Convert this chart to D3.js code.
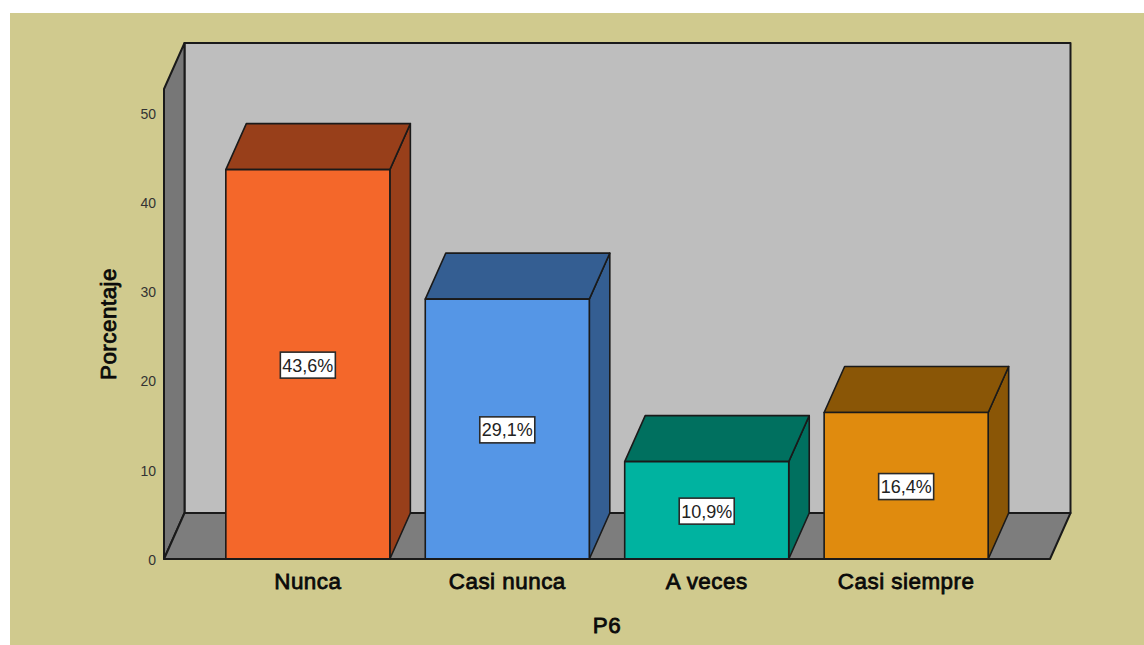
<!DOCTYPE html>
<html><head><meta charset="utf-8">
<script src="https://cdn.jsdelivr.net/npm/d3@7"></script>
<style>html,body{margin:0;padding:0;background:#fff;overflow:hidden}svg{display:block}text{font-family:"Liberation Sans",Arial,sans-serif}</style>
</head><body><div id="chart"></div>
<script>
const categories = ["Nunca","Casi nunca","A veces","Casi siempre"];
const values = [43.6,29.1,10.9,16.4];
const valueLabels = ["43,6%","29,1%","10,9%","16,4%"];
const frontColors = ["#f4672a","#5596e6","#00b3a0","#e08b0e"];
const sideColors = ["#983f1a","#345e92","#00705f","#8a5606"];
const yTicks = [0,10,20,30,40,50];
const yTitle = "Porcentaje", xTitle = "P6";

const W=1144,H=645, dx=20.5, dy=-46;
const svg=d3.select("#chart").append("svg").attr("width",W).attr("height",H);
svg.append("rect").attr("x",10).attr("y",13).attr("width",W-10).attr("height",H-13).attr("fill","#d0ca8e");

const x=d3.scaleBand().domain(categories).range([164,1050]).paddingInner(0.1775).paddingOuter(0.31);
const y=d3.scaleLinear().domain([0,50]).range([559,112.5]);
const yTop=y.invert(89);
const stroke="#1a1a1a";
const poly=(pts,fill,sw=2)=>svg.append("polygon").attr("points",pts.map(p=>p.join(",")).join(" ")).attr("fill",fill).attr("stroke",stroke).attr("stroke-width",sw).attr("stroke-linejoin","round");

const [xa,xb]=x.range(), y0=y(0), yt=y(yTop);
poly([[xa+dx,yt+dy],[xb+dx,yt+dy],[xb+dx,y0+dy],[xa+dx,y0+dy]],"#bebebe");
poly([[xa,yt],[xa+dx,yt+dy],[xa+dx,y0+dy],[xa,y0]],"#777777");
poly([[xa,y0],[xa+dx,y0+dy],[xb+dx,y0+dy],[xb,y0]],"#7d7d7d");

categories.forEach((c,i)=>{
  const l=x(c), r=l+x.bandwidth(), t=y(values[i]);
  poly([[r,t],[r+dx,t+dy],[r+dx,y0+dy],[r,y0]],sideColors[i],1.6);
  poly([[l,t],[l+dx,t+dy],[r+dx,t+dy],[r,t]],sideColors[i],1.6);
  poly([[l,t],[r,t],[r,y0],[l,y0]],frontColors[i],1.6);
});
svg.append("line").attr("x1",xa).attr("x2",xb).attr("y1",y0).attr("y2",y0).attr("stroke",stroke).attr("stroke-width",2.2);

categories.forEach((c,i)=>{
  const cx=x(c)+x.bandwidth()/2, cy=(y(values[i])+y0)/2+0.8;
  svg.append("rect").attr("x",cx-27.5).attr("y",cy-13).attr("width",55).attr("height",26).attr("fill","#fff").attr("stroke","#2a2a2a").attr("stroke-width",1.6);
  svg.append("text").attr("x",cx).attr("y",cy+6.5).attr("text-anchor","middle").attr("font-size",18).attr("fill","#222").text(valueLabels[i]);
});

svg.selectAll(".yt").data(yTicks).join("text").attr("class","yt").attr("x",156).attr("y",d=>y(d)+6).attr("text-anchor","end").attr("font-size",14).attr("fill","#333").text(d=>d);
const boldText=s=>s.attr("text-anchor","middle").attr("font-size",22.4).attr("font-weight",400).attr("fill","#0a0a0a").attr("stroke","#0a0a0a").attr("stroke-width",0.8).attr("letter-spacing",0.5);
svg.selectAll(".xl").data(categories).join("text").attr("class","xl").attr("x",d=>x(d)+x.bandwidth()/2).attr("y",589).call(boldText).text(d=>d);
svg.append("text").attr("x",607).attr("y",632.5).call(boldText).text(xTitle);
svg.append("text").attr("transform","translate(116,324) rotate(-90)").call(boldText).text(yTitle);
</script></body></html>
